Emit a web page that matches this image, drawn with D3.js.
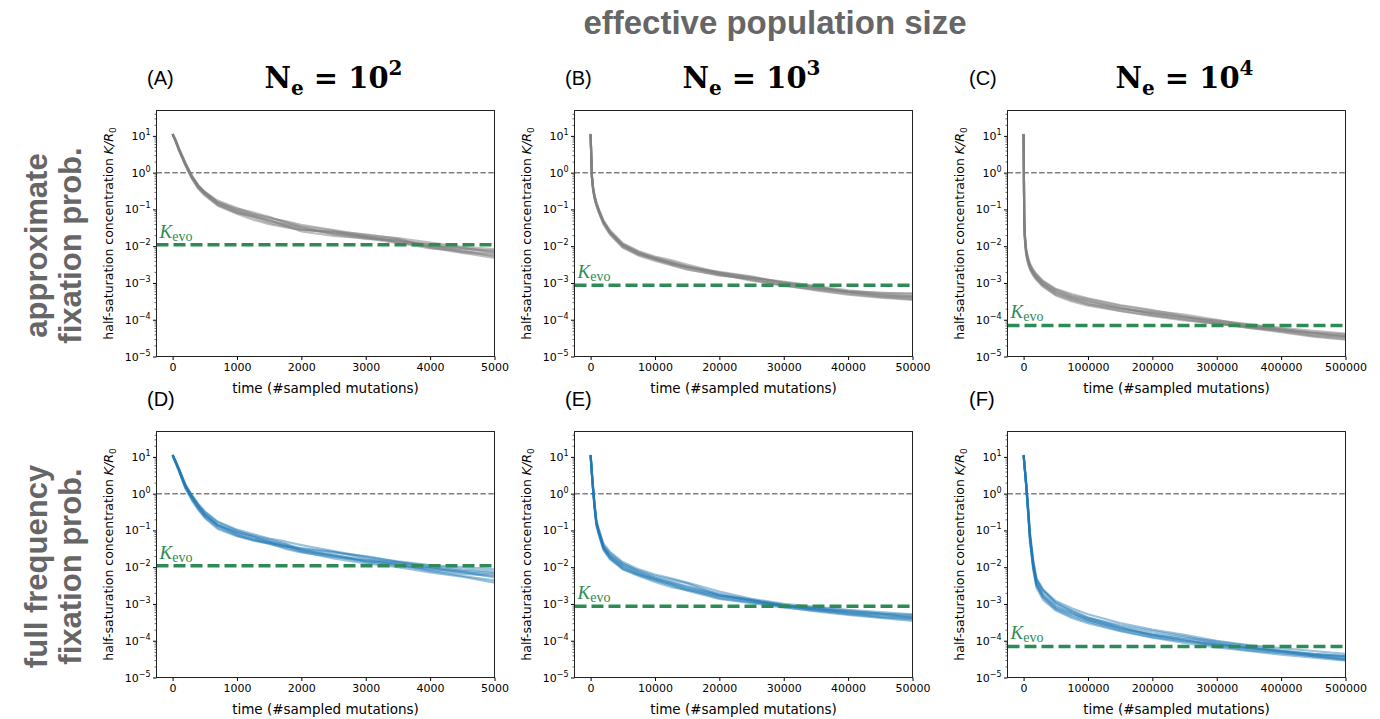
<!DOCTYPE html>
<html>
<head>
<meta charset="utf-8">
<script src="https://cdn.jsdelivr.net/npm/d3@7"></script>
<style>
  body { margin: 0; background: #fff; }
  svg { display: block; }
</style>
</head>
<body>
<svg id="chart" width="1380" height="719"></svg>
<script>
// time grids (#sampled mutations) for each column
const timesNe2 = [0, 50, 100, 150, 200, 300, 400, 500, 700, 1000, 1250, 1500, 1750, 2000, 2500, 3000, 3500, 4000, 4500, 5000];
const timesNe3 = [0, 200, 400, 600, 900, 1300, 2000, 3000, 5000, 7500, 10000, 12500, 15000, 20000, 25000, 30000, 35000, 40000, 45000, 50000];
const timesNe4 = [0, 1000, 2000, 4000, 7000, 10000, 15000, 20000, 30000, 50000, 75000, 100000, 150000, 200000, 250000, 300000, 350000, 400000, 450000, 500000];

const xMax = [5000, 50000, 500000];
const xTicks = [
  [0, 1000, 2000, 3000, 4000, 5000],
  [0, 10000, 20000, 30000, 40000, 50000],
  [0, 100000, 200000, 300000, 400000, 500000]
];
const neExponents = ["2", "3", "4"];
const kevo = [0.011, 8.7e-4, 7e-5];
const yTickExp = [-5, -4, -3, -2, -1, 0, 1];
const panelLetters = ["(A)", "(B)", "(C)", "(D)", "(E)", "(F)"];
const rowLabels = [["approximate", "fixation prob."], ["full frequency", "fixation prob."]];

// log10(K/R0) of each replicate run
const runsA = [
  [1.05,0.86,0.64,0.44,0.24,-0.10,-0.36,-0.53,-0.80,-0.98,-1.08,-1.20,-1.36,-1.50,-1.68,-1.80,-1.84,-1.96,-2.14,-2.20],
  [1.04,0.84,0.60,0.40,0.20,-0.16,-0.44,-0.62,-0.90,-1.12,-1.28,-1.40,-1.48,-1.55,-1.62,-1.72,-1.90,-2.06,-2.12,-2.28],
  [1.06,0.88,0.66,0.46,0.27,-0.08,-0.34,-0.52,-0.76,-0.96,-1.12,-1.24,-1.32,-1.42,-1.56,-1.70,-1.78,-1.90,-2.02,-2.08],
  [1.05,0.85,0.62,0.43,0.22,-0.14,-0.40,-0.58,-0.84,-1.06,-1.22,-1.36,-1.46,-1.56,-1.60,-1.68,-1.80,-2.02,-2.16,-2.25],
  [1.03,0.83,0.60,0.41,0.20,-0.15,-0.43,-0.60,-0.88,-1.10,-1.20,-1.28,-1.44,-1.60,-1.72,-1.78,-1.92,-2.00,-2.06,-2.14],
  [1.05,0.87,0.65,0.45,0.25,-0.10,-0.36,-0.54,-0.80,-1.02,-1.14,-1.22,-1.34,-1.46,-1.58,-1.76,-1.86,-1.94,-2.04,-2.18],
  [1.04,0.85,0.63,0.42,0.21,-0.13,-0.39,-0.57,-0.86,-1.08,-1.18,-1.32,-1.40,-1.48,-1.66,-1.74,-1.82,-2.04,-2.18,-2.32],
  [1.05,0.86,0.61,0.42,0.23,-0.11,-0.37,-0.56,-0.82,-1.02,-1.16,-1.30,-1.42,-1.54,-1.64,-1.76,-1.88,-1.98,-2.08,-2.12]
];
const runsB = [
  [1.05,-0.06,-0.40,-0.60,-0.80,-1.00,-1.30,-1.56,-1.92,-2.14,-2.28,-2.38,-2.50,-2.72,-2.86,-2.96,-3.08,-3.20,-3.28,-3.28],
  [1.04,-0.14,-0.50,-0.70,-0.90,-1.10,-1.40,-1.68,-2.04,-2.26,-2.40,-2.52,-2.64,-2.78,-2.90,-3.06,-3.20,-3.32,-3.40,-3.46],
  [1.06,-0.10,-0.44,-0.64,-0.84,-1.04,-1.34,-1.60,-1.94,-2.16,-2.34,-2.48,-2.58,-2.70,-2.82,-3.00,-3.14,-3.24,-3.30,-3.36],
  [1.05,-0.11,-0.46,-0.66,-0.86,-1.06,-1.36,-1.63,-2.00,-2.24,-2.36,-2.46,-2.56,-2.76,-2.92,-3.06,-3.16,-3.26,-3.34,-3.42],
  [1.03,-0.09,-0.45,-0.65,-0.85,-1.05,-1.35,-1.62,-1.98,-2.18,-2.30,-2.42,-2.54,-2.74,-2.86,-2.98,-3.10,-3.26,-3.36,-3.38],
  [1.05,-0.08,-0.42,-0.62,-0.82,-1.02,-1.32,-1.60,-1.96,-2.20,-2.36,-2.50,-2.62,-2.80,-2.88,-3.02,-3.12,-3.22,-3.26,-3.30],
  [1.04,-0.12,-0.48,-0.68,-0.88,-1.08,-1.38,-1.66,-2.02,-2.22,-2.34,-2.44,-2.58,-2.76,-2.94,-3.08,-3.18,-3.30,-3.38,-3.44],
  [1.05,-0.10,-0.45,-0.65,-0.85,-1.05,-1.35,-1.62,-1.97,-2.20,-2.32,-2.46,-2.56,-2.72,-2.84,-3.00,-3.12,-3.24,-3.32,-3.36]
];
const runsC = [
  [1.05,-1.22,-1.68,-2.08,-2.32,-2.48,-2.64,-2.76,-2.94,-3.16,-3.30,-3.42,-3.60,-3.74,-3.90,-4.04,-4.14,-4.22,-4.30,-4.38],
  [1.04,-1.36,-1.84,-2.24,-2.48,-2.64,-2.80,-2.92,-3.10,-3.34,-3.50,-3.62,-3.76,-3.88,-3.98,-4.10,-4.22,-4.34,-4.46,-4.54],
  [1.06,-1.28,-1.72,-2.12,-2.38,-2.54,-2.70,-2.80,-2.98,-3.20,-3.36,-3.48,-3.68,-3.82,-3.94,-4.02,-4.12,-4.24,-4.36,-4.44],
  [1.05,-1.32,-1.78,-2.18,-2.42,-2.58,-2.74,-2.86,-3.04,-3.28,-3.44,-3.58,-3.70,-3.80,-3.92,-4.08,-4.22,-4.30,-4.38,-4.48],
  [1.03,-1.30,-1.76,-2.16,-2.40,-2.56,-2.72,-2.86,-3.04,-3.26,-3.40,-3.50,-3.66,-3.86,-4.00,-4.12,-4.18,-4.28,-4.42,-4.46],
  [1.05,-1.24,-1.70,-2.10,-2.34,-2.50,-2.66,-2.78,-2.96,-3.18,-3.34,-3.44,-3.62,-3.76,-3.86,-4.00,-4.16,-4.26,-4.34,-4.40],
  [1.04,-1.34,-1.82,-2.22,-2.46,-2.62,-2.78,-2.90,-3.08,-3.32,-3.46,-3.58,-3.76,-3.90,-4.02,-4.10,-4.20,-4.32,-4.44,-4.52],
  [1.05,-1.30,-1.74,-2.14,-2.40,-2.56,-2.72,-2.84,-3.02,-3.24,-3.40,-3.54,-3.70,-3.82,-3.94,-4.06,-4.18,-4.28,-4.36,-4.45]
];
const runsD = [
  [1.05,0.87,0.68,0.46,0.25,-0.05,-0.28,-0.48,-0.76,-0.98,-1.10,-1.22,-1.30,-1.40,-1.56,-1.72,-1.84,-1.94,-2.00,-2.06],
  [1.04,0.83,0.62,0.38,0.15,-0.18,-0.44,-0.66,-0.96,-1.16,-1.28,-1.36,-1.46,-1.58,-1.76,-1.90,-2.00,-2.14,-2.26,-2.42],
  [1.06,0.86,0.66,0.44,0.22,-0.08,-0.33,-0.55,-0.84,-1.04,-1.14,-1.24,-1.36,-1.50,-1.60,-1.70,-1.86,-2.02,-2.14,-2.20],
  [1.05,0.84,0.63,0.40,0.18,-0.12,-0.38,-0.60,-0.88,-1.12,-1.26,-1.34,-1.42,-1.52,-1.70,-1.86,-1.96,-2.04,-2.12,-2.28],
  [1.03,0.85,0.64,0.41,0.19,-0.10,-0.36,-0.58,-0.86,-1.08,-1.22,-1.32,-1.44,-1.48,-1.58,-1.76,-1.92,-2.08,-2.18,-2.24],
  [1.05,0.88,0.67,0.45,0.24,-0.04,-0.30,-0.50,-0.78,-1.00,-1.16,-1.30,-1.42,-1.56,-1.68,-1.80,-1.86,-1.96,-2.06,-2.12],
  [1.04,0.82,0.60,0.37,0.14,-0.16,-0.42,-0.64,-0.92,-1.14,-1.24,-1.36,-1.50,-1.60,-1.72,-1.82,-1.94,-2.10,-2.24,-2.36],
  [1.05,0.86,0.65,0.43,0.21,-0.09,-0.34,-0.56,-0.85,-1.06,-1.18,-1.28,-1.38,-1.54,-1.66,-1.84,-1.90,-2.00,-2.10,-2.16]
];
const runsE = [
  [1.05,0.58,0.16,-0.24,-0.72,-0.98,-1.36,-1.58,-1.86,-2.06,-2.20,-2.30,-2.42,-2.66,-2.86,-3.00,-3.08,-3.16,-3.22,-3.28],
  [1.04,0.52,0.04,-0.36,-0.88,-1.14,-1.54,-1.78,-2.06,-2.24,-2.40,-2.54,-2.62,-2.80,-2.94,-3.08,-3.20,-3.30,-3.38,-3.46],
  [1.06,0.56,0.11,-0.29,-0.79,-1.04,-1.44,-1.66,-1.92,-2.10,-2.24,-2.34,-2.44,-2.76,-2.92,-3.06,-3.14,-3.20,-3.26,-3.34],
  [1.05,0.54,0.08,-0.32,-0.82,-1.08,-1.48,-1.74,-2.02,-2.20,-2.34,-2.46,-2.60,-2.84,-2.96,-3.04,-3.12,-3.24,-3.34,-3.40],
  [1.03,0.55,0.10,-0.30,-0.80,-1.06,-1.46,-1.70,-1.98,-2.18,-2.32,-2.46,-2.58,-2.76,-2.88,-3.04,-3.16,-3.26,-3.30,-3.36],
  [1.05,0.57,0.14,-0.26,-0.76,-1.00,-1.40,-1.62,-1.90,-2.12,-2.28,-2.40,-2.52,-2.72,-2.90,-3.06,-3.10,-3.18,-3.26,-3.30],
  [1.04,0.53,0.06,-0.34,-0.84,-1.10,-1.50,-1.76,-2.04,-2.22,-2.36,-2.50,-2.64,-2.86,-2.98,-3.10,-3.18,-3.28,-3.36,-3.42],
  [1.05,0.55,0.10,-0.30,-0.80,-1.06,-1.46,-1.70,-1.96,-2.16,-2.30,-2.42,-2.54,-2.78,-2.90,-3.02,-3.14,-3.22,-3.28,-3.38]
];
const runsF = [
  [1.05,0.87,0.68,0.30,-0.36,-1.06,-1.82,-2.30,-2.60,-2.92,-3.12,-3.28,-3.52,-3.70,-3.84,-4.00,-4.12,-4.20,-4.28,-4.36],
  [1.04,0.83,0.62,0.20,-0.54,-1.32,-2.08,-2.56,-2.88,-3.18,-3.38,-3.52,-3.74,-3.92,-4.06,-4.18,-4.28,-4.38,-4.46,-4.54],
  [1.06,0.86,0.66,0.27,-0.42,-1.16,-1.90,-2.36,-2.64,-2.96,-3.18,-3.36,-3.62,-3.80,-3.92,-4.02,-4.14,-4.26,-4.36,-4.42],
  [1.05,0.84,0.64,0.23,-0.48,-1.24,-2.00,-2.48,-2.80,-3.12,-3.30,-3.44,-3.66,-3.84,-3.98,-4.14,-4.26,-4.34,-4.42,-4.50],
  [1.03,0.85,0.65,0.25,-0.45,-1.20,-1.95,-2.44,-2.76,-3.08,-3.26,-3.40,-3.64,-3.86,-4.00,-4.10,-4.18,-4.28,-4.40,-4.48],
  [1.05,0.87,0.67,0.28,-0.40,-1.12,-1.86,-2.32,-2.62,-2.98,-3.20,-3.38,-3.58,-3.74,-3.88,-4.06,-4.20,-4.28,-4.36,-4.42],
  [1.04,0.84,0.63,0.22,-0.50,-1.28,-2.04,-2.50,-2.82,-3.14,-3.34,-3.48,-3.72,-3.90,-4.02,-4.12,-4.22,-4.32,-4.42,-4.52],
  [1.05,0.85,0.65,0.25,-0.46,-1.20,-1.96,-2.42,-2.72,-3.04,-3.24,-3.44,-3.68,-3.84,-3.96,-4.08,-4.20,-4.30,-4.38,-4.44]
];

const times = [timesNe2, timesNe3, timesNe4];
const runsByPanel = [runsA, runsB, runsC, runsD, runsE, runsF];
const runColors = ["#808080", "#1f77b4"];
const runAlpha = [0.5, 0.45];

// layout
const colLeft = [156.5, 574.5, 1007.5];
const rowTop = [110.5, 431.5];
const pw = 338, ph = 246;
const letterX = [147, 565, 969];
const sans = "'DejaVu Sans', sans-serif";
const helv = "'Liberation Sans', Arial, sans-serif";

const svg = d3.select("#chart");

svg.append("text")
  .attr("x", 775).attr("y", 34)
  .attr("text-anchor", "middle")
  .style("font-family", helv)
  .style("font-weight", "bold")
  .style("font-size", "33px")
  .style("fill", "#666")
  .text("effective population size");

// row labels, rotated
rowLabels.forEach((lines, r) => {
  const cy = rowTop[r] + ph / 2 + 12;
  lines.forEach((s, i) => {
    svg.append("text")
      .attr("transform", `translate(${47 + i * 34},${cy}) rotate(-90)`)
      .attr("text-anchor", "middle")
      .style("font-family", helv)
      .style("font-weight", "bold")
      .style("font-size", "31px")
      .style("fill", "#666")
      .text(s);
  });
});

// column titles N_e = 10^k
xMax.forEach((m, c) => {
  const t = svg.append("text")
    .attr("x", colLeft[c] + pw / 2 + 8).attr("y", 88)
    .attr("text-anchor", "middle")
    .style("font-family", "'DejaVu Serif', serif")
    .style("font-weight", "bold")
    .style("font-size", "29px")
    .style("fill", "#000");
  t.append("tspan").text("N");
  t.append("tspan").attr("dy", 7).style("font-size", "20px").text("e");
  t.append("tspan").attr("dy", -7).text(" = 10");
  t.append("tspan").attr("dy", -13).style("font-size", "20px").text(neExponents[c]);
});

const minorVals = [];
for (let e = -5; e <= 1; e++) {
  for (let k = 2; k <= 9; k++) {
    if (k * 10 ** e <= 49) minorVals.push(k * 10 ** e);
  }
}

const fmtExp = e => (e < 0 ? "\u2212" + (-e) : String(e));

runsByPanel.forEach((runs, p) => {
  const r = Math.floor(p / 3), c = p % 3;
  const x0 = colLeft[c], y0 = rowTop[r];
  const g = svg.append("g").attr("transform", `translate(${x0},${y0})`);

  const x = d3.scaleLinear().domain([-0.05 * xMax[c], xMax[c]]).range([0, pw]);
  const y = d3.scaleLog().domain([1e-5, 49]).range([ph, 0]);

  const clipId = "clip" + p;
  g.append("clipPath").attr("id", clipId)
    .append("rect").attr("width", pw).attr("height", ph);

  const plot = g.append("g").attr("clip-path", `url(#${clipId})`);

  // reference line at K/R0 = 1
  plot.append("line")
    .attr("x1", 0).attr("x2", pw)
    .attr("y1", y(1)).attr("y2", y(1))
    .attr("stroke", "#808080").attr("stroke-width", 1.5)
    .attr("stroke-dasharray", "5.5,2.4");

  const line = d3.line()
    .x((d, i) => x(times[c][i]))
    .y(d => y(10 ** d));

  runs.forEach(run => {
    plot.append("path")
      .attr("d", line(run))
      .attr("fill", "none")
      .attr("stroke", runColors[r])
      .attr("stroke-opacity", runAlpha[r])
      .attr("stroke-width", 2.2)
      .attr("stroke-linejoin", "round");
  });

  // K_evo line
  plot.append("line")
    .attr("x1", 0).attr("x2", pw)
    .attr("y1", y(kevo[c])).attr("y2", y(kevo[c]))
    .attr("stroke", "#2e8b57").attr("stroke-width", 3.5)
    .attr("stroke-dasharray", "12,5");

  const kl = g.append("text")
    .attr("x", 3).attr("y", y(kevo[c]) - 7)
    .style("font-family", "'Liberation Serif', 'DejaVu Serif', serif")
    .style("font-size", "19px")
    .style("fill", "#2e8b57");
  kl.append("tspan").style("font-style", "italic").text("K");
  kl.append("tspan").attr("dy", 3).style("font-size", "14px").text("evo");

  // axes
  const xAxis = g.append("g").attr("transform", `translate(0,${ph})`)
    .call(d3.axisBottom(x).tickValues(xTicks[c]).tickSize(3.5).tickPadding(3.5).tickFormat(d3.format("d")));
  xAxis.select(".domain").remove();
  xAxis.selectAll("text").style("font-family", sans).style("font-size", "11px").style("fill", "#000");

  const yMinor = g.append("g")
    .call(d3.axisLeft(y).tickValues(minorVals).tickSize(2).tickFormat(""));
  yMinor.select(".domain").remove();
  yMinor.selectAll("line").attr("stroke-width", 0.6);

  const yMajor = g.append("g")
    .call(d3.axisLeft(y).tickValues(yTickExp.map(e => 10 ** e)).tickSize(3.5).tickFormat(""));
  yMajor.select(".domain").remove();

  yTickExp.forEach(e => {
    const t = g.append("text")
      .attr("x", -6).attr("y", y(10 ** e) + 4)
      .attr("text-anchor", "end")
      .style("font-family", sans).style("font-size", "11px").style("fill", "#000");
    t.append("tspan").text("10");
    t.append("tspan").attr("dy", -5).style("font-size", "8px").text(fmtExp(e));
  });

  g.append("rect")
    .attr("width", pw).attr("height", ph)
    .attr("fill", "none").attr("stroke", "#222").attr("stroke-width", 1);

  g.append("text")
    .attr("x", pw / 2).attr("y", ph + 36)
    .attr("text-anchor", "middle")
    .style("font-family", sans).style("font-size", "13.5px").style("fill", "#000")
    .text("time (#sampled mutations)");

  const yl = g.append("text")
    .attr("transform", `translate(-44,${ph / 2}) rotate(-90)`)
    .attr("text-anchor", "middle")
    .style("font-family", sans).style("font-size", "12.5px").style("fill", "#000");
  yl.append("tspan").text("half-saturation concentration ");
  yl.append("tspan").style("font-style", "italic").text("K/R");
  yl.append("tspan").attr("dy", 3).style("font-size", "9px").text("0");

  svg.append("text")
    .attr("x", letterX[c]).attr("y", y0 - 26)
    .style("font-family", helv)
    .style("font-size", "20px").style("fill", "#000")
    .text(panelLetters[p]);
});
</script>
</body>
</html>
